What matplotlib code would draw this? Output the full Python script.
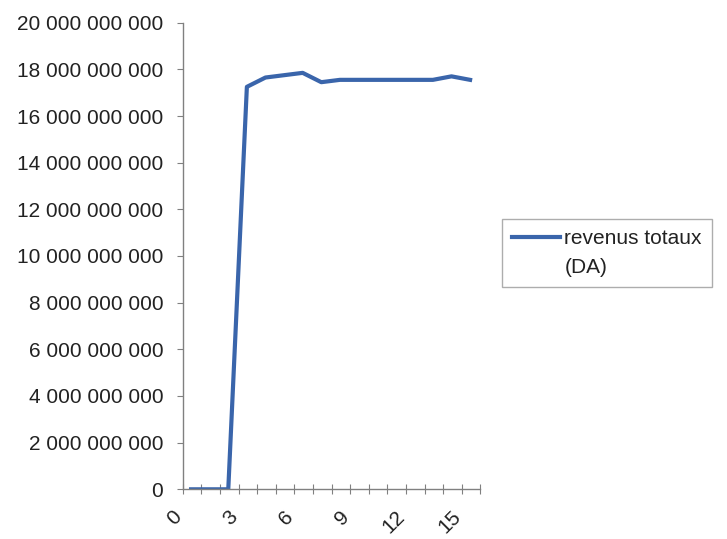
import matplotlib
matplotlib.use("Agg")
import matplotlib.pyplot as plt
from matplotlib.lines import Line2D
from matplotlib.ticker import FuncFormatter, MultipleLocator
from matplotlib.transforms import ScaledTranslation

# Data
periods = [0.45, 1.45, 2.45, 3.45, 4.45, 5.45, 6.45, 7.45, 8.45, 9.45, 10.45, 11.45, 12.45, 13.45, 14.45, 15.45]
revenus = [0, 0, 0, 17.25e9, 17.65e9, 17.75e9, 17.85e9, 17.45e9, 17.55e9, 17.55e9,
           17.55e9, 17.55e9, 17.55e9, 17.55e9, 17.7e9, 17.55e9]
x_ticklabels = [0, 3, 6, 9, 12, 15]

plt.rcParams['font.family'] = ['Liberation Sans', 'DejaVu Sans']

fig = plt.figure(figsize=(7.27, 5.39), dpi=100)
ax = fig.add_axes([0.2513, 0.0922, 0.4094, 0.8657])

line_color = '#3a65ab'
line, = ax.plot(periods, revenus, color=line_color, linewidth=3)

ax.set_xlim(0, 16)
ax.set_ylim(0, 20e9)
ax.yaxis.set_major_locator(MultipleLocator(2e9))
ax.yaxis.set_major_formatter(FuncFormatter(lambda v, p: f'{int(round(v)):,}'.replace(',', ' ')))
ax.set_xticks(range(17))
ax.set_xticklabels([str(i) if i in x_ticklabels else '' for i in range(17)],
                   rotation=45, ha='right', va='center', rotation_mode='anchor')

for s in ['top', 'right']:
    ax.spines[s].set_visible(False)
for s in ['left', 'bottom']:
    ax.spines[s].set_color('#808080')
    ax.spines[s].set_linewidth(1)

ax.tick_params(axis='both', colors='#808080', labelcolor='#222222', labelsize=15)
ax.tick_params(axis='y', length=4, pad=10)
ax.tick_params(axis='x', direction='inout', length=7, pad=14)

# shift x labels a bit left, like the original
offset = ScaledTranslation(-4 / 100, 0, fig.dpi_scale_trans)
for lbl in ax.get_xticklabels():
    lbl.set_transform(lbl.get_transform() + offset)

# legend: line next to first text line, second line under the text
blank = Line2D([], [], alpha=0)
leg = fig.legend([line, blank], ['revenus totaux', '(DA)'], loc='upper left',
                 bbox_to_anchor=(502 / 727, 1 - 219 / 539), bbox_transform=fig.transFigure,
                 borderaxespad=0, fontsize=15, frameon=True, fancybox=False,
                 handlelength=2.3, handletextpad=0.2, borderpad=0.5, labelspacing=0.45)
leg.get_frame().set_edgecolor('#999999')
leg.get_frame().set_linewidth(1)
for t in leg.get_texts():
    t.set_color('#222222')

plt.savefig('out.png', dpi=100)
